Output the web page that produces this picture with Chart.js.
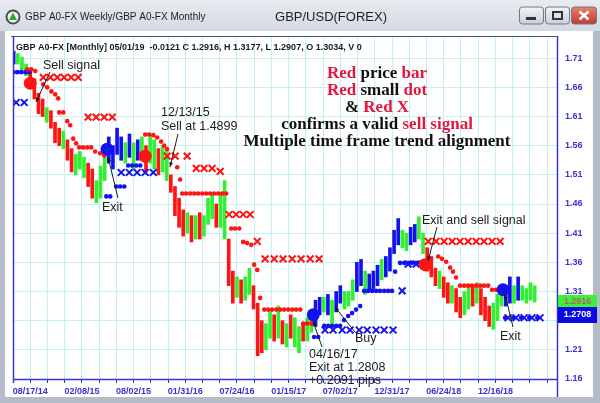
<!DOCTYPE html>
<html>
<head>
<meta charset="utf-8">
<script src="https://cdn.jsdelivr.net/npm/chart.js@4.4.1/dist/chart.umd.min.js"></script>
<style>
  html, body { margin: 0; padding: 0; background: #fff; overflow: hidden; }
  canvas { display: block; }
</style>
</head>
<body>
<canvas id="chart" width="600" height="403"></canvas>
<script>
// x axis is in weeks counted from 08/17/14
const dateLabels = ["08/17/14", "02/08/15", "08/02/15", "01/31/16", "07/24/16", "01/15/17", "07/02/17", "12/31/17", "06/24/18", "12/16/18"];
const priceTicks = [1.16, 1.21, 1.26, 1.31, 1.36, 1.41, 1.46, 1.51, 1.56, 1.61, 1.66, 1.71];
const firstWeek = -8;   // one bar every two weeks from here

const barLow = [
  1.700, 1.700, 1.690, 1.680, 1.665, 1.640, 1.615, 1.610, 1.600, 1.590,
  1.565, 1.560, 1.555, 1.535, 1.515, 1.510, 1.520, 1.505, 1.490, 1.470,
  1.462, 1.470, 1.500, 1.530, 1.520, 1.545, 1.535, 1.530, 1.540, 1.520,
  1.535, 1.540, 1.515, 1.530, 1.520, 1.510, 1.515, 1.500, 1.480, 1.440,
  1.420, 1.405, 1.410, 1.395, 1.400, 1.400, 1.405, 1.425, 1.435, 1.420,
  1.420, 1.400, 1.320, 1.290, 1.300, 1.290, 1.295, 1.305, 1.280, 1.200,
  1.205, 1.210, 1.230, 1.225, 1.230, 1.220, 1.215, 1.230, 1.215, 1.205,
  1.225, 1.225, 1.240, 1.250, 1.270, 1.275, 1.270, 1.255, 1.275, 1.290,
  1.280, 1.285, 1.295, 1.310, 1.320, 1.305, 1.310, 1.315, 1.320, 1.330,
  1.335, 1.345, 1.375, 1.390, 1.385, 1.380, 1.390, 1.395, 1.400, 1.375,
  1.345, 1.335, 1.320, 1.315, 1.300, 1.290, 1.290, 1.275, 1.265, 1.270,
  1.280, 1.285, 1.290, 1.270, 1.260, 1.250, 1.245, 1.260, 1.285, 1.285,
  1.290, 1.290, 1.295, 1.295, 1.290, 1.295, 1.292
];
const barHigh = [
  1.722, 1.718, 1.712, 1.700, 1.690, 1.675, 1.650, 1.640, 1.625, 1.620,
  1.600, 1.590, 1.585, 1.570, 1.555, 1.545, 1.550, 1.540, 1.530, 1.520,
  1.500, 1.525, 1.545, 1.575, 1.560, 1.590, 1.575, 1.565, 1.580, 1.565,
  1.570, 1.575, 1.560, 1.575, 1.570, 1.555, 1.560, 1.550, 1.510, 1.490,
  1.470, 1.450, 1.445, 1.440, 1.440, 1.445, 1.440, 1.470, 1.480, 1.460,
  1.475, 1.500, 1.400, 1.345, 1.335, 1.330, 1.335, 1.350, 1.320, 1.290,
  1.260, 1.255, 1.280, 1.270, 1.285, 1.260, 1.255, 1.270, 1.265, 1.250,
  1.255, 1.265, 1.275, 1.295, 1.300, 1.300, 1.305, 1.295, 1.310, 1.320,
  1.310, 1.310, 1.330, 1.360, 1.365, 1.345, 1.340, 1.345, 1.355, 1.365,
  1.370, 1.385, 1.415, 1.435, 1.415, 1.410, 1.420, 1.425, 1.438, 1.410,
  1.385, 1.370, 1.350, 1.345, 1.335, 1.325, 1.320, 1.315, 1.300, 1.310,
  1.320, 1.320, 1.325, 1.315, 1.300, 1.285, 1.290, 1.305, 1.315, 1.315,
  1.335, 1.320, 1.335, 1.320, 1.315, 1.325, 1.320
];
// r = red (sell), g = green (neutral), b = blue (buy)
const barTrend = [
  "bgggrrrrgr", "rrgrrgggrr", "gggbbbbgbg", "bgrggrggrr", "rrgrgrgggr",
  "ggrrgrggrr", "rggrgrgrgg", "rggbbgbgbb", "gggbbgbbbg", "bbbbggbbgg",
  "rrrgrrgrrg", "grgrrrgggb", "bgbgggg"
].join("");

// [week, price]
const redStops = [
  [-1.5, 1.691], [0.5, 1.691], [2.4, 1.688],
  [6.3, 1.665], [8.2, 1.660], [10.2, 1.653], [12.1, 1.648], [13.5, 1.641],
  [14, 1.617], [16, 1.617], [17.9, 1.602], [19.3, 1.595], [20.8, 1.572], [22.2, 1.564],
  [23.7, 1.557], [25.6, 1.557], [27.6, 1.557], [29.5, 1.557], [31.4, 1.550], [33.8, 1.547], [35.8, 1.543],
  [55.6, 1.579], [57.5, 1.579], [59.5, 1.578], [61.4, 1.574], [63.3, 1.567], [64.8, 1.560], [66.2, 1.554],
  [71.1, 1.523], [72.5, 1.502],
  [73.5, 1.478], [75.4, 1.478], [77.4, 1.478], [79.3, 1.478], [81.2, 1.478], [83.2, 1.478],
  [85.1, 1.478], [87, 1.478], [89, 1.478], [90.9, 1.478], [92.8, 1.478], [94.8, 1.478],
  [97.2, 1.418], [99.1, 1.418], [101.1, 1.418],
  [103, 1.395], [104.9, 1.393], [106.9, 1.390],
  [108.3, 1.356], [109.8, 1.347], [111.2, 1.299],
  [113.2, 1.279], [115.1, 1.279], [117, 1.279], [119, 1.279], [120.9, 1.279],
  [122.8, 1.279], [124.8, 1.279], [126.7, 1.279], [128.6, 1.279], [130.6, 1.279],
  [132, 1.255], [133.9, 1.255], [135.9, 1.255],
  [197.3, 1.370], [199.2, 1.366], [201.2, 1.361], [203.1, 1.351], [204.5, 1.344], [206, 1.334],
  [207.9, 1.320], [209.9, 1.320], [211.8, 1.320], [213.7, 1.320], [215.7, 1.320], [217.6, 1.320],
  [219.5, 1.320], [221.5, 1.320], [223.4, 1.313], [225.3, 1.313], [227.3, 1.313]
];
const blueStops = [
  [-8.2, 1.686], [-6.3, 1.686], [-4.4, 1.686], [-2.4, 1.686], [-0.5, 1.686],
  [36.8, 1.473], [38.7, 1.473], [41.6, 1.490], [43.5, 1.490], [45.5, 1.490],
  [47.4, 1.526], [49.3, 1.526], [51.3, 1.526], [53.2, 1.526],
  [137.3, 1.232], [139.3, 1.232],
  [142.2, 1.251], [144.1, 1.251], [146, 1.251], [148, 1.251], [149.9, 1.251],
  [151.8, 1.261], [153.8, 1.268], [155.7, 1.273], [157.6, 1.279], [159.6, 1.285],
  [161.5, 1.311], [163.4, 1.311], [165.4, 1.311], [167.3, 1.311], [169.2, 1.311],
  [171.2, 1.311], [173.1, 1.311], [175, 1.311], [176.5, 1.344],
  [178.9, 1.359], [180.9, 1.359], [182.8, 1.359], [184.7, 1.359], [186.7, 1.359], [188.6, 1.359],
  [229.7, 1.265], [233.6, 1.265], [237.4, 1.265], [241.3, 1.265], [245.2, 1.265]
];
const redCrosses = [
  [6.3, 1.677], [9.7, 1.677], [13.1, 1.677], [16.4, 1.677], [19.8, 1.677], [23.2, 1.677],
  [28, 1.609], [31.9, 1.609], [35.8, 1.609], [39.7, 1.609],
  [66.2, 1.542], [70.1, 1.542], [75.9, 1.542],
  [80.3, 1.521], [84.1, 1.521], [88, 1.521], [91.9, 1.516],
  [96.2, 1.442], [99.6, 1.442], [103, 1.442], [106.4, 1.442],
  [109.8, 1.396],
  [113.6, 1.366], [118, 1.366], [122.3, 1.366], [126.7, 1.366], [131, 1.366], [135.4, 1.366], [139.7, 1.366],
  [192.5, 1.396], [196.3, 1.396], [200.2, 1.396], [204.1, 1.396], [207.9, 1.396],
  [211.8, 1.396], [215.7, 1.396], [219.5, 1.396], [223.4, 1.396], [227.3, 1.396]
];
const blueCrosses = [
  [-6.8, 1.634], [-2.9, 1.634],
  [44, 1.514], [47.9, 1.514], [51.7, 1.514], [55.6, 1.514], [59.5, 1.514],
  [142.6, 1.244], [146.5, 1.244], [150.9, 1.244], [154.7, 1.244], [159.1, 1.244],
  [163, 1.244], [167.3, 1.244], [171.2, 1.244], [175.5, 1.244],
  [179.9, 1.311], [182.8, 1.357], [186.7, 1.357],
  [231.1, 1.265], [235, 1.265], [238.9, 1.265], [242.7, 1.265], [246.6, 1.265]
];
const sellSignals = [[0, 1.667], [55.6, 1.542], [191, 1.356]];
const buySignals = [[37.2, 1.554], [136.9, 1.270], [228.7, 1.313]];

const lastClose = "1.2916";
const stopLevel = "1.2708";

const RED = "#ff1414", GREEN = "#30f030", BLUE = "#1212ee";
const AXIS = "#3434d2", GRID = "#c4f1f6";
const TXT_RED = "#e3173d";
const SANS = "'Liberation Sans', Arial, sans-serif";
const SERIF = "'Liberation Serif', 'Times New Roman', serif";

const trendColor = { r: RED, g: GREEN, b: BLUE };
const bars = barLow.map((lo, i) => ({ x: firstWeek + 2 * i, y: [lo, barHigh[i]] }));
const pts = arr => arr.map(p => ({ x: p[0], y: p[1] }));

function arrow(ctx, x1, y1, x2, y2) {
    ctx.beginPath(); ctx.moveTo(x1, y1); ctx.lineTo(x2, y2); ctx.stroke();
    const a = Math.atan2(y2 - y1, x2 - x1);
    ctx.beginPath();
    ctx.moveTo(x2, y2);
    ctx.lineTo(x2 - 5 * Math.cos(a - 0.4), y2 - 5 * Math.sin(a - 0.4));
    ctx.lineTo(x2 - 5 * Math.cos(a + 0.4), y2 - 5 * Math.sin(a + 0.4));
    ctx.closePath(); ctx.fill();
}

function richLine(ctx, parts, cx, y) {
    const w = parts.reduce((s, p) => s + ctx.measureText(p[0]).width, 0);
    let x = cx - w / 2;
    parts.forEach(p => {
        ctx.fillStyle = p[1];
        ctx.fillText(p[0], x, y);
        x += ctx.measureText(p[0]).width;
    });
}

function roundRect(ctx, x, y, w, h, r) {
    ctx.beginPath();
    ctx.moveTo(x + r, y); ctx.lineTo(x + w - r, y); ctx.quadraticCurveTo(x + w, y, x + w, y + r);
    ctx.lineTo(x + w, y + h - r); ctx.quadraticCurveTo(x + w, y + h, x + w - r, y + h);
    ctx.lineTo(x + r, y + h); ctx.quadraticCurveTo(x, y + h, x, y + h - r);
    ctx.lineTo(x, y + r); ctx.quadraticCurveTo(x, y, x + r, y);
    ctx.closePath();
}

const windowFrame = {
    id: "windowFrame",
    beforeDraw(chart) {
        const ctx = chart.ctx;
        ctx.save();
        ctx.fillStyle = "#b3bcc8";
        ctx.fillRect(0, 0, 600, 403);
        const g = ctx.createLinearGradient(0, 0, 0, 31);
        g.addColorStop(0, "#e8ecf1");
        g.addColorStop(1, "#d2d9e2");
        ctx.fillStyle = g;
        ctx.fillRect(0, 0, 600, 31);
        ctx.fillStyle = "#ffffff";
        ctx.fillRect(5, 31, 588, 366);

        // icon
        ctx.beginPath(); ctx.arc(13, 17, 6.5, 0, Math.PI * 2);
        ctx.fillStyle = "#f4f4f4"; ctx.fill();
        ctx.lineWidth = 2; ctx.strokeStyle = "#4a4f55"; ctx.stroke();
        ctx.beginPath(); ctx.moveTo(13, 12.5); ctx.lineTo(17, 20); ctx.lineTo(9, 20); ctx.closePath();
        ctx.fillStyle = "#2fa53a"; ctx.fill();

        ctx.fillStyle = "#1e1e1e";
        ctx.textBaseline = "middle";
        ctx.textAlign = "left";
        ctx.font = "10px " + SANS;
        ctx.fillText("GBP A0-FX Weekly/GBP A0-FX Monthly", 25, 17);
        ctx.textAlign = "center";
        ctx.font = "13px " + SANS;
        ctx.fillText("GBP/USD(FOREX)", 331, 17);

        // window buttons
        const btn = (x, w, top, bot) => {
            const bg = ctx.createLinearGradient(0, 7, 0, 24);
            bg.addColorStop(0, top); bg.addColorStop(1, bot);
            roundRect(ctx, x, 7, w, 17, 3);
            ctx.fillStyle = bg; ctx.fill();
            ctx.lineWidth = 1; ctx.strokeStyle = "#6e7884"; ctx.stroke();
        };
        btn(519.5, 24, "#f3f5f8", "#c9d0d9");
        btn(545.5, 24, "#f3f5f8", "#c9d0d9");
        btn(571.5, 25, "#e8806f", "#c0392b");
        ctx.fillStyle = "#333";
        ctx.fillRect(526, 17, 10, 3);
        ctx.strokeStyle = "#333"; ctx.lineWidth = 2;
        ctx.strokeRect(553, 12, 9, 7);
        ctx.strokeStyle = "#ffffff"; ctx.lineWidth = 2.5;
        ctx.beginPath();
        ctx.moveTo(579.5, 11.5); ctx.lineTo(588.5, 19.5);
        ctx.moveTo(588.5, 11.5); ctx.lineTo(579.5, 19.5);
        ctx.stroke();
        ctx.restore();
    },
    afterDraw(chart) {
        const ctx = chart.ctx;
        const a = chart.chartArea;
        ctx.save();

        // plot frame
        ctx.lineWidth = 1;
        ctx.strokeStyle = "#4a5a78";
        ctx.beginPath(); ctx.moveTo(11, 36.5); ctx.lineTo(a.right, 36.5); ctx.stroke();
        ctx.strokeStyle = AXIS;
        ctx.lineWidth = 1.5;
        ctx.beginPath();
        ctx.moveTo(a.left + 0.5, 36); ctx.lineTo(a.left + 0.5, a.bottom + 4);
        ctx.moveTo(a.left, a.bottom + 0.5); ctx.lineTo(a.right, a.bottom + 0.5);
        ctx.moveTo(a.right + 0.5, 36); ctx.lineTo(a.right + 0.5, 397);
        ctx.stroke();

        // header
        ctx.fillStyle = "#1a1a1a";
        ctx.textAlign = "left";
        ctx.textBaseline = "alphabetic";
        ctx.font = "bold 9px " + SANS;
        ctx.fillText("GBP A0-FX [Monthly] 05/01/19  -0.0121 C 1.2916, H 1.3177, L 1.2907, O 1.3034, V 0", 16, 50);

        // note block
        ctx.font = "bold 17px " + SERIF;
        const K = "#111111";
        richLine(ctx, [["Red", TXT_RED], [" price ", K], ["bar", TXT_RED]], 377, 78);
        richLine(ctx, [["Red", TXT_RED], [" small ", K], ["dot", TXT_RED]], 377, 95);
        richLine(ctx, [["& ", K], ["Red X", TXT_RED]], 377, 112);
        richLine(ctx, [["confirms a valid ", K], ["sell signal", TXT_RED]], 377, 129);
        richLine(ctx, [["Multiple time frame trend alignment", K]], 377, 146);

        // callouts
        ctx.font = "12.5px " + SANS;
        ctx.fillStyle = "#1c1c1c";
        ctx.fillText("Sell signal", 43, 69);
        ctx.fillText("Exit", 102, 211);
        ctx.fillText("12/13/15", 161, 116);
        ctx.fillText("Sell at 1.4899", 161, 130);
        ctx.fillText("Exit and sell signal", 422, 224);
        ctx.fillText("Buy", 355, 342);
        ctx.fillText("04/16/17", 309, 358);
        ctx.fillText("Exit at 1.2808", 309, 371);
        ctx.fillText("+0.2091 pips", 309, 384);
        ctx.fillText("Exit", 500, 340);

        ctx.strokeStyle = "#1c1c1c";
        ctx.lineWidth = 1;
        arrow(ctx, 50, 72, 36, 102);
        arrow(ctx, 118, 198, 108, 157);
        arrow(ctx, 178, 134, 170, 167);
        arrow(ctx, 437, 227, 428, 261);
        arrow(ctx, 355, 332, 335, 307);
        arrow(ctx, 322, 347, 313, 321);
        arrow(ctx, 513, 327, 505, 294);

        // price boxes on the right axis
        ctx.font = "bold 9px " + SANS;
        ctx.textAlign = "center";
        ctx.textBaseline = "middle";
        ctx.fillStyle = "#3cf03c";
        ctx.fillRect(558, 295, 39, 12);
        ctx.fillStyle = "#b06060";
        ctx.fillText(lastClose, 577.5, 301.5);
        ctx.fillStyle = "#0a0ae6";
        ctx.fillRect(558, 307, 39, 16);
        ctx.fillStyle = "#ffffff";
        ctx.fillText(stopLevel, 577.5, 315);
        ctx.restore();
    }
};

new Chart(document.getElementById("chart"), {
    type: "bar",
    data: {
        datasets: [
            { type: "scatter", data: pts(sellSignals), pointRadius: 6.5, pointBackgroundColor: RED, pointBorderWidth: 0, order: 1 },
            { type: "scatter", data: pts(buySignals), pointRadius: 6.5, pointBackgroundColor: BLUE, pointBorderWidth: 0, order: 1 },
            { type: "scatter", data: pts(redCrosses), pointStyle: "crossRot", pointRadius: 4.8, pointBorderColor: RED, pointBorderWidth: 2, order: 2 },
            { type: "scatter", data: pts(blueCrosses), pointStyle: "crossRot", pointRadius: 4.8, pointBorderColor: BLUE, pointBorderWidth: 2, order: 2 },
            { type: "scatter", data: pts(redStops), pointRadius: 2.3, pointBackgroundColor: RED, pointBorderWidth: 0, order: 3 },
            { type: "scatter", data: pts(blueStops), pointRadius: 2.3, pointBackgroundColor: BLUE, pointBorderWidth: 0, order: 3 },
            {
                type: "bar",
                data: bars,
                backgroundColor: bars.map((b, i) => trendColor[barTrend[i]]),
                barThickness: 3,
                grouped: false,
                order: 5
            }
        ]
    },
    options: {
        responsive: false,
        animation: false,
        events: [],
        layout: { padding: { left: 13, top: 36, right: 0, bottom: 0 } },
        plugins: { legend: { display: false }, tooltip: { enabled: false } },
        scales: {
            x: {
                type: "linear",
                min: -25 / 3,
                max: 254.8,
                offset: false,
                afterFit: s => { s.height = 24; },
                afterBuildTicks: s => {
                    const t = [];
                    for (let k = 0; k <= 31; k++) t.push({ value: -25 / 3 + k * 25 / 3 });
                    s.ticks = t;
                },
                grid: { color: GRID, lineWidth: 1, offset: false, tickColor: AXIS, tickLength: 4, drawTicks: true },
                border: { display: false },
                ticks: {
                    autoSkip: false,
                    maxRotation: 0,
                    padding: 3,
                    color: AXIS,
                    font: { family: SANS, size: 9, weight: "bold" },
                    callback: (v, i) => (i % 3 === 1 && dateLabels[(i - 1) / 3]) ? dateLabels[(i - 1) / 3] : ""
                }
            },
            y: {
                position: "right",
                min: 1.16,
                max: 1.748,
                afterFit: s => { s.width = 43; },
                afterBuildTicks: s => { s.ticks = priceTicks.map(v => ({ value: v })); },
                grid: { color: GRID, lineWidth: 1, drawTicks: false },
                border: { display: false },
                ticks: {
                    padding: 8,
                    color: AXIS,
                    font: { family: SANS, size: 9, weight: "bold" },
                    callback: v => v.toFixed(2)
                }
            }
        }
    },
    plugins: [windowFrame]
});
</script>
</body>
</html>
